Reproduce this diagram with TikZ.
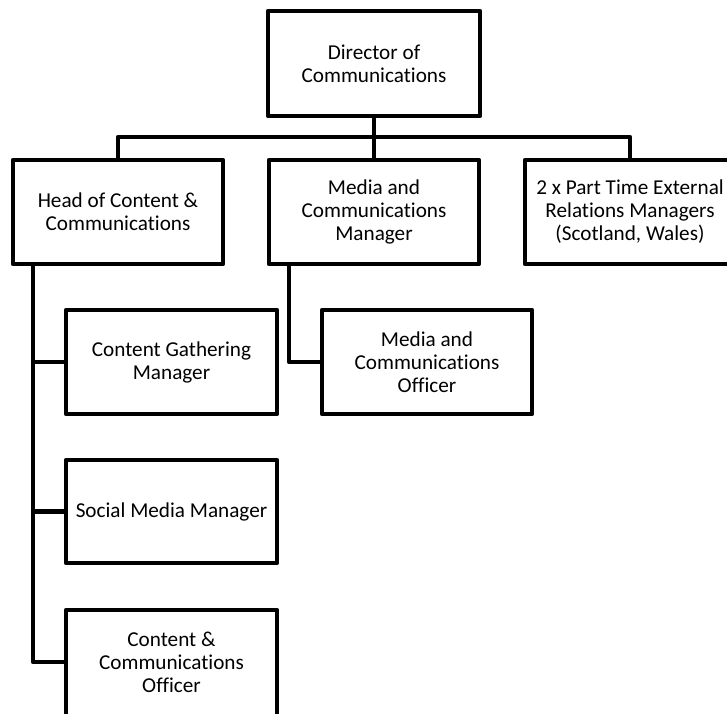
\documentclass[tikz,border=0pt]{standalone}
\usepackage{fontspec}
\setmainfont{Carlito}[Ligatures=NoCommon]
\begin{document}
\begin{tikzpicture}[x=0.75pt,y=-0.75pt,
  line width=3.4pt, line join=round,
  boxnode/.style={draw, rectangle, inner sep=0pt, outer sep=0pt, align=center,
    minimum width=157.5pt, minimum height=78pt,
    font={\fontsize{15.9pt}{17.25pt}\selectfont}},
  conn/.style={draw, line width=3.4pt}]
\useasboundingbox (0,0) rectangle (727,713);
% boxes
\node[boxnode, minimum width=159pt, minimum height=78.75pt] (dir) at (374,63.5) {Director of\\Communications};
\node[boxnode] (head) at (118,212) {Head of Content \&\\Communications};
\node[boxnode] (mcm) at (374,212) {Media and\\Communications\\Manager};
\node[boxnode] (ptm) at (630,212) {2 x Part Time External\\Relations Managers\\(Scotland, Wales)};
\node[boxnode, minimum width=158.25pt] (cgm) at (171.5,362) {Content Gathering\\Manager};
\node[boxnode] (mco) at (427,362) {Media and\\Communications\\Officer};
\node[boxnode, minimum width=158.25pt, minimum height=77.25pt] (smm) at (171.5,511.5) {Social Media Manager};
\node[boxnode, minimum width=158.25pt, minimum height=84pt, anchor=north] (cco) at (171.5,610) {};
\node[font={\fontsize{15.9pt}{17.25pt}\selectfont}, align=center, inner sep=0pt] (ccot) at (171.5,662) {Content \&\\Communications\\Officer};
% connectors
\coordinate (bar) at (374,137);
\coordinate (hv) at (33,264);
\coordinate (mv) at (289,264);
\draw[conn] (dir.south) -- (bar);
\draw[conn] (bar) -| (head.north);
\draw[conn] (bar) -| (ptm.north);
\draw[conn] (bar) -- (mcm.north);
\draw[conn] (hv) |- (cco.west |- ccot.center);
\draw[conn] (hv |- cgm.west) -- (cgm.west);
\draw[conn] (hv |- smm.west) -- (smm.west);
\draw[conn] (mv) |- (mco.west);
\end{tikzpicture}
\end{document}
